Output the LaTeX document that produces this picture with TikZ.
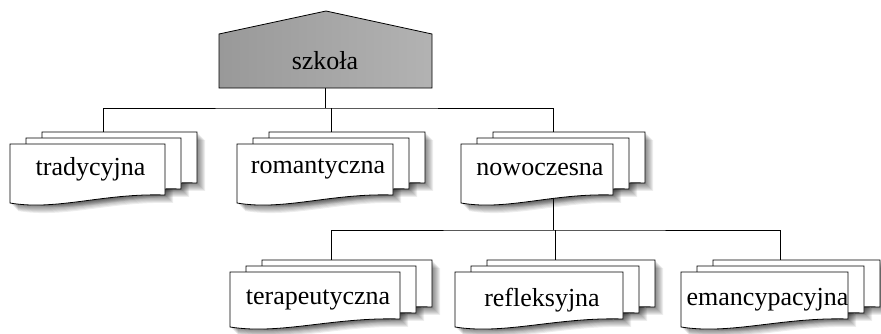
\documentclass[tikz,border=0pt]{standalone}
\usepackage{fontspec}
\setmainfont{Liberation Serif}
\usetikzlibrary{backgrounds}

\tikzset{
  card/.style={draw=black, line width=0.8pt, fill=white},
  cardshadow/.style={fill=black, opacity=0.07},
  link/.style={draw=black, line width=0.9pt},
  caption/.style={font=\fontsize{26}{30}\selectfont, inner sep=0pt},
  roof/.style={draw=black, line width=0.8pt, left color=gray!80,
    middle color=gray!25, right color=gray!60},
}

% One stack of three cards with a wavy lower edge.
% #1 name, #2 left x of front card, #3 top y of front card,
% #4 width, #5 height, #6 text drop below the top, #7 caption
\newcommand\cardstack[7]{%
  % soft shadow under the whole stack
  \foreach \k in {2,1,0}{%
    \pgfmathsetmacro\L{#2+16*\k}%
    \pgfmathsetmacro\T{#3+6*\k}%
    \foreach \s in {1,...,8}{%
      \fill[cardshadow] ({\L+\s},{\T-\s}) -- ({\L+#4+\s},{\T-\s})
        -- ({\L+#4+\s},{\T-#5+8-\s})
        .. controls ({\L+0.6*#4+\s},{\T-#5+10-\s}) and ({\L+0.3*#4+\s},{\T-#5-8-\s})
        .. ({\L+\s},{\T-#5-\s}) -- cycle;
    }%
  }%
  % the cards, back to front
  \foreach \k in {2,1,0}{%
    \pgfmathsetmacro\L{#2+16*\k}%
    \pgfmathsetmacro\T{#3+6*\k}%
    \path[card] (\L,\T) -- ({\L+#4},\T) -- ({\L+#4},{\T-#5+8})
      .. controls ({\L+0.6*#4},{\T-#5+10}) and ({\L+0.3*#4},{\T-#5-8})
      .. (\L,{\T-#5}) -- cycle;
  }%
  \node[caption] (#1) at ({#2+#4/2+3},{#3-#6}) {#7};
  \coordinate (#1-top) at ({#2+16+#4/2},{#3+12});
}

\begin{document}
\begin{tikzpicture}[x=1pt, y=1pt]
  \useasboundingbox (0,0) rectangle (881,333);

  % top node: a house-shaped box
  \path[roof] (219,245) -- (219,299) -- (326,322) -- (432,299) -- (432,245) -- cycle;
  \node[caption, minimum height=54pt] (szkola) at (325,272) {szkoła};

  % first level
  \cardstack{trad}{10}{189}{155}{59}{25}{tradycyjna}
  \cardstack{roman}{237}{189}{156}{59}{25}{romantyczna}
  \cardstack{nowo}{461}{189}{152}{59}{25}{nowoczesna}

  % second level
  \cardstack{terap}{230}{61}{170}{55}{28}{terapeutyczna}
  \cardstack{refl}{455}{61}{168}{55}{28}{refleksyjna}
  \cardstack{eman}{681}{61}{167}{55}{28}{emancypacyjna}

  % connectors, kept behind the cards
  \begin{pgfonlayer}{background}
    \coordinate (bus1) at (szkola.south |- 0,225);
    \coordinate (bus2) at (nowo-top |- 0,103);
    \draw[link] (szkola.south) -- (bus1);
    \draw[link] (trad-top) |- (bus1) -| (nowo-top);
    \draw[link] (roman-top) -- (roman-top |- bus1);
    \draw[link] (nowo-top) -- (bus2);
    \draw[link] (terap-top) |- (bus2) -| (eman-top);
    \draw[link] (refl-top) -- (refl-top |- bus2);
  \end{pgfonlayer}
\end{tikzpicture}
\end{document}
